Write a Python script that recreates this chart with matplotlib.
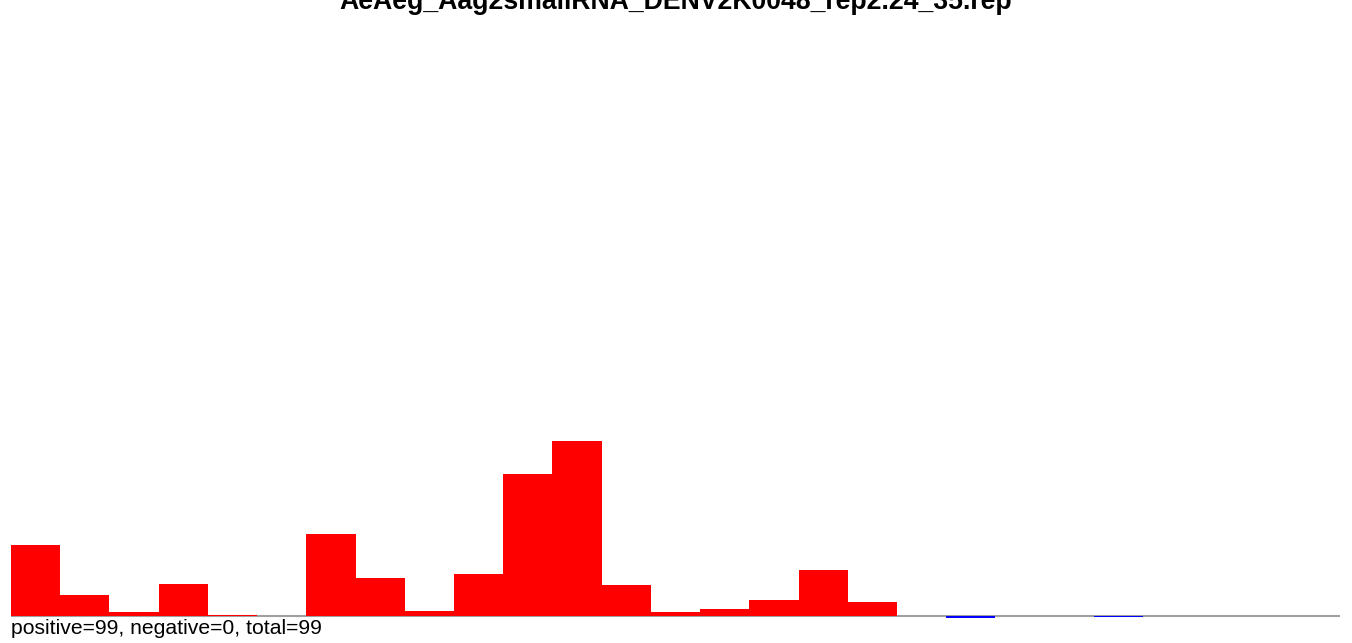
import numpy as np
import matplotlib.pyplot as plt

plt.rcParams['font.family'] = ['Liberation Sans', 'DejaVu Sans']

title = 'AeAeg_Aag2smallRNA_DENV2K0048_rep2.24_35.rep'
positive = [71, 21, 4.5, 32, 1.5, 0, 82, 38, 5, 42, 142, 175, 31, 4, 7, 16, 46, 14,
            0, 0, 0, 0, 0, 0, 0, 0, 0]
negative = [0, 0, 0, 0, 0, 0, 0, 0, 0, 0, 0, 0, 0, 0, 0, 0, 0, 0,
            0, 2, 0, 0, 1, 0, 0, 0, 0]
summary = 'positive=99, negative=0, total=99'

W, H = 1352, 643
fig = plt.figure(figsize=(W/100, H/100), dpi=100)
# axes: x from 11 to 1340 px, y from bottom (643) to 30 px
ax = fig.add_axes([11/W, 0, 1329/W, (H-30)/H])
n = len(positive)
xs = np.arange(n)
ax.bar(xs, positive, width=1.0, align='edge', color='#ff0000', linewidth=0)
ax.bar(xs, -np.array(negative), width=1.0, align='edge', color='#0000ff', linewidth=0)
ax.axhline(0, color='#a0a0a0', linewidth=1.5, zorder=0)
ax.set_xlim(0, n)
ax.set_ylim(-(H-616), 586)
ax.axis('off')

fig.text(0.5, 1.0 - 2/H, title, ha='center', va='center', fontsize=19.2, fontweight='bold')
fig.text(11/W, 1.0 - 629/H, summary, ha='left', va='center', fontsize=15.2)

fig.savefig('out.png', dpi=100)
